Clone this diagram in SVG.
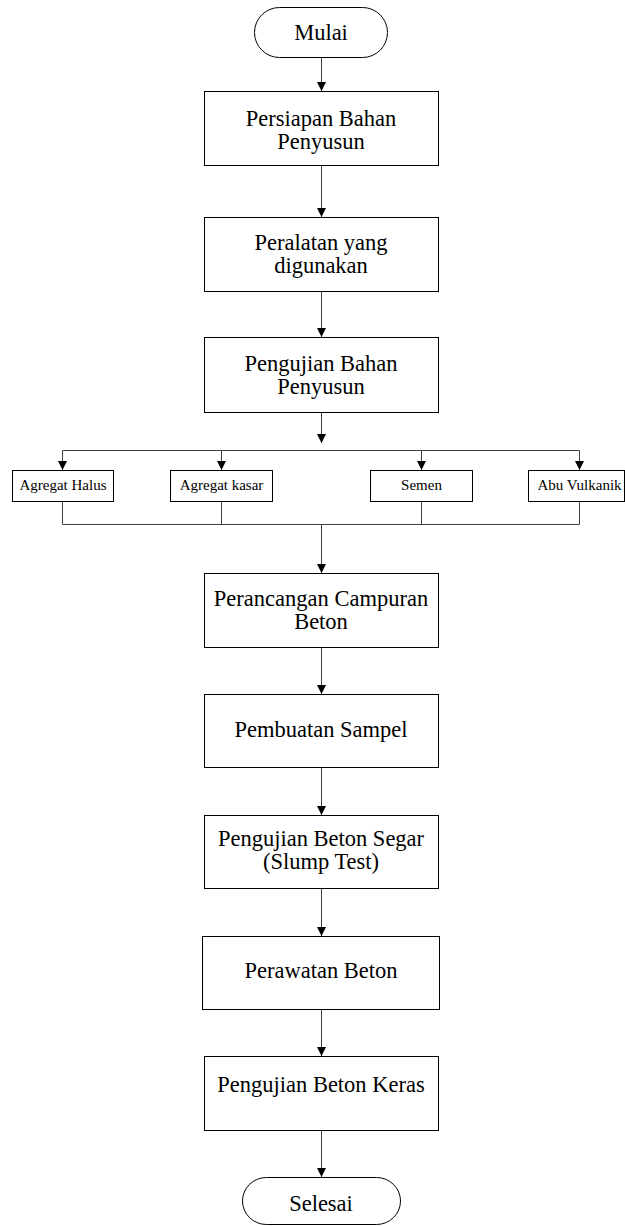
<svg xmlns="http://www.w3.org/2000/svg" width="625" height="1226" viewBox="0 0 625 1226">
<defs>
<marker id="arr" viewBox="0 0 10 10" refX="10" refY="5" markerWidth="9" markerHeight="9" markerUnits="userSpaceOnUse" orient="auto">
<path d="M0,0 L10,5 L0,10 z" fill="#000"/>
</marker>
<style>
.box{fill:#fff;stroke:#000;stroke-width:1}
.t{font-family:"Liberation Serif","Times New Roman",serif;font-size:22.5px;fill:#000;text-anchor:middle}
.s{font-family:"Liberation Serif","Times New Roman",serif;font-size:15px;fill:#000;text-anchor:middle}
.c{fill:none;stroke:#404040;stroke-width:1}
.ca{fill:none;stroke:#404040;stroke-width:1;marker-end:url(#arr)}
</style>
</defs>
<rect width="625" height="1226" fill="#fff"/>
<g id="connectors">
<line class="ca" x1="321.5" y1="57" x2="321.5" y2="91"/>
<line class="ca" x1="321.5" y1="165" x2="321.5" y2="217"/>
<line class="ca" x1="321.5" y1="291" x2="321.5" y2="337"/>
<line class="ca" x1="321.5" y1="412" x2="321.5" y2="443"/>
<line class="c" x1="62.5" y1="450.5" x2="579.5" y2="450.5"/>
<line class="ca" x1="62.5" y1="450.5" x2="62.5" y2="470"/>
<line class="ca" x1="221.5" y1="450.5" x2="221.5" y2="470"/>
<line class="ca" x1="421.5" y1="450.5" x2="421.5" y2="470"/>
<line class="ca" x1="579.5" y1="450.5" x2="579.5" y2="470"/>
<polyline class="c" points="62.5,501 62.5,524.5 579.5,524.5 579.5,501"/>
<line class="c" x1="221.5" y1="501" x2="221.5" y2="524.5"/>
<line class="c" x1="421.5" y1="501" x2="421.5" y2="524.5"/>
<line class="ca" x1="321.5" y1="524.5" x2="321.5" y2="573"/>
<line class="ca" x1="321.5" y1="647" x2="321.5" y2="694"/>
<line class="ca" x1="321.5" y1="767" x2="321.5" y2="815"/>
<line class="ca" x1="321.5" y1="888" x2="321.5" y2="936"/>
<line class="ca" x1="321.5" y1="1009" x2="321.5" y2="1056"/>
<line class="ca" x1="321.5" y1="1130" x2="321.5" y2="1177"/>
</g>
<g id="mulai">
<rect class="box" x="254.5" y="7.5" width="133" height="50" rx="25" ry="25"/>
<text class="t" x="321" y="40">Mulai</text>
</g>
<g id="persiapan">
<rect class="box" x="204.5" y="91.5" width="234" height="74"/>
<text class="t" x="321" y="126">Persiapan Bahan</text>
<text class="t" x="321" y="149">Penyusun</text>
</g>
<g id="peralatan">
<rect class="box" x="204.5" y="217.5" width="234" height="74"/>
<text class="t" x="321" y="250">Peralatan yang</text>
<text class="t" x="321" y="273">digunakan</text>
</g>
<g id="pengujian-bahan">
<rect class="box" x="204.5" y="337.5" width="234" height="75"/>
<text class="t" x="321" y="371">Pengujian Bahan</text>
<text class="t" x="321" y="394">Penyusun</text>
</g>
<g id="agregat-halus">
<rect class="box" x="12.5" y="470.5" width="101" height="31"/>
<text class="s" x="63" y="490">Agregat Halus</text>
</g>
<g id="agregat-kasar">
<rect class="box" x="170.5" y="470.5" width="102" height="31"/>
<text class="s" x="221.5" y="490">Agregat kasar</text>
</g>
<g id="semen">
<rect class="box" x="370.5" y="470.5" width="102" height="31"/>
<text class="s" x="421.5" y="490">Semen</text>
</g>
<g id="abu-vulkanik">
<rect class="box" x="528.5" y="470.5" width="96" height="31"/>
<text class="s" x="579.5" y="490">Abu Vulkanik</text>
</g>
<g id="perancangan">
<rect class="box" x="204.5" y="573.5" width="234" height="74"/>
<text class="t" x="321" y="606">Perancangan Campuran</text>
<text class="t" x="321" y="629">Beton</text>
</g>
<g id="pembuatan">
<rect class="box" x="204.5" y="694.5" width="234" height="73"/>
<text class="t" x="321" y="737">Pembuatan Sampel</text>
</g>
<g id="beton-segar">
<rect class="box" x="204.5" y="815.5" width="234" height="73"/>
<text class="t" x="321" y="846">Pengujian Beton Segar</text>
<text class="t" x="321" y="869">(Slump Test)</text>
</g>
<g id="perawatan">
<rect class="box" x="202.5" y="936.5" width="237" height="73"/>
<text class="t" x="321" y="978">Perawatan Beton</text>
</g>
<g id="beton-keras">
<rect class="box" x="204.5" y="1056.5" width="234" height="74"/>
<text class="t" x="321" y="1092">Pengujian Beton Keras</text>
</g>
<g id="selesai">
<rect class="box" x="242.5" y="1177.5" width="158" height="47" rx="24" ry="23.5"/>
<text class="t" x="321" y="1211">Selesai</text>
</g>
</svg>
